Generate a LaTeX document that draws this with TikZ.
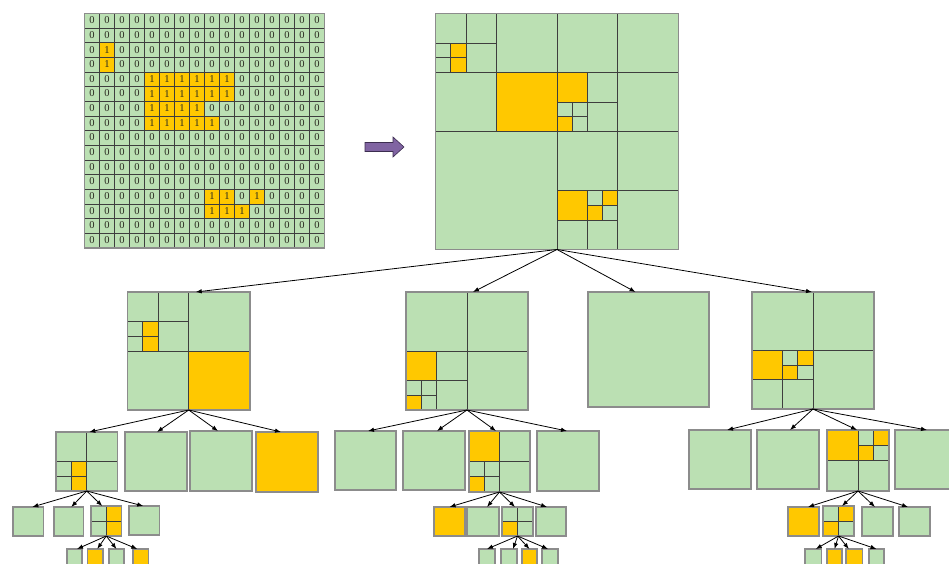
\documentclass[tikz,border=0pt]{standalone}
\usepackage{fontspec}
\setmainfont{Liberation Serif}
\usetikzlibrary{arrows.meta}

\definecolor{qgreen}{RGB}{187,224,179}
\definecolor{qyellow}{RGB}{255,200,0}
\definecolor{qline}{RGB}{62,62,62}
\definecolor{qedge}{RGB}{140,140,140}
\definecolor{qpurple}{RGB}{128,100,162}
\definecolor{qpurpleedge}{RGB}{60,45,80}
\definecolor{qdigit}{RGB}{40,40,30}

\tikzset{
  qbox/.style={rectangle, anchor=north west, inner sep=0pt, outer sep=0pt},
  leaf/.style={draw=qline, line width=0.7pt},
  rim/.style={draw=qedge, line width=1.2pt},
  gridcell/.style={draw=qline, line width=0.6pt},
  digit/.style={inner sep=0pt, text=qdigit, font=\fontsize{10.5}{10.5}\selectfont},
  link/.style={draw=black, line width=0.8pt, -{Latex[length=6pt,width=4.5pt]}},
  blockarrow/.style={fill=qpurple, draw=qpurpleedge, line width=0.6pt, line join=miter}
}

% quadtree block: name, left, top, width, height, units across, leaves x/y/size/colour
\newcommand\qtbox[7]{%
  \node[qbox, minimum width=#4pt, minimum height=#5pt] (#1) at (#2,#3) {};
  \pgfmathsetmacro\qux{#4/#6}\pgfmathsetmacro\quy{#5/#6}
  \begin{scope}[shift={(#1.north west)}, x=\qux pt, y=-\quy pt]
    \foreach \lx/\ly/\ls/\lc in {#7} {
      \filldraw[leaf, fill=\lc] (\lx,\ly) rectangle ++(\ls,\ls);
    }
  \end{scope}
  \draw[rim] (#1.north west) rectangle (#1.south east);
}
% single-colour block
\newcommand\qtplain[6]{\qtbox{#1}{#2}{#3}{#4}{#5}{1}{0/0/1/#6}}

% cells holding a 1 (column@row)
\foreach \gc/\gr in {1/2,1/3,
  4/4,5/4,6/4,7/4,8/4,9/4,
  4/5,5/5,6/5,7/5,8/5,9/5,
  4/6,5/6,6/6,7/6,
  4/7,5/7,6/7,7/7,8/7,
  8/12,9/12,11/12,
  8/13,9/13,10/13}{\expandafter\gdef\csname qone@\gc @\gr\endcsname{}}

\begin{document}
\begin{tikzpicture}[x=1pt, y=-1pt]
\useasboundingbox (0,0) rectangle (949,564);

% ---- binary image ----
\foreach \gr in {0,...,15} {
  \foreach \gc in {0,...,15} {
    \ifcsname qone@\gc @\gr\endcsname
      \def\qv{1}\def\qf{qyellow}
    \else
      \def\qv{0}\def\qf{qgreen}
    \fi
    \filldraw[gridcell, fill=\qf] (84.5+\gc*15, 13.5+\gr*14.65) rectangle ++(15,14.65);
    \node[digit] at (92+\gc*15, 20.3+\gr*14.65) {\qv};
  }
}
\node[qbox, minimum width=240pt, minimum height=234.4pt] (grid) at (84.5,13.5) {};
\draw[rim] (grid.north west) rectangle (grid.south east);

% ---- block arrow ----
\filldraw[blockarrow] (365,142.5) -- (393,142.5) -- (393,137) -- (404,147)
  -- (393,157) -- (393,151.5) -- (365,151.5) -- cycle;

% ---- full quadtree ----
\qtbox{root}{435.5}{13.5}{243}{236}{16}{
  0/0/2/qgreen, 2/0/2/qgreen, 0/2/1/qgreen, 1/2/1/qyellow, 0/3/1/qgreen, 1/3/1/qyellow, 2/2/2/qgreen,
  4/0/4/qgreen, 0/4/4/qgreen, 4/4/4/qyellow,
  8/0/4/qgreen, 12/0/4/qgreen, 8/4/2/qyellow, 10/4/2/qgreen, 8/6/1/qgreen, 9/6/1/qgreen,
  8/7/1/qyellow, 9/7/1/qgreen, 10/6/2/qgreen, 12/4/4/qgreen,
  0/8/8/qgreen,
  8/8/4/qgreen, 12/8/4/qgreen, 8/12/2/qyellow, 10/12/1/qgreen, 11/12/1/qyellow,
  10/13/1/qyellow, 11/13/1/qgreen, 8/14/2/qgreen, 10/14/2/qgreen, 12/12/4/qgreen}

% ---- level 1 ----
\qtbox{c1}{127.5}{292}{122.5}{118}{8}{
  0/0/2/qgreen, 2/0/2/qgreen, 0/2/1/qgreen, 1/2/1/qyellow, 0/3/1/qgreen, 1/3/1/qyellow, 2/2/2/qgreen,
  4/0/4/qgreen, 0/4/4/qgreen, 4/4/4/qyellow}
\qtbox{c2}{406}{292}{122}{118}{8}{
  0/0/4/qgreen, 4/0/4/qgreen, 0/4/2/qyellow, 2/4/2/qgreen, 0/6/1/qgreen, 1/6/1/qgreen,
  0/7/1/qyellow, 1/7/1/qgreen, 2/6/2/qgreen, 4/4/4/qgreen}
\qtplain{c3}{588}{292}{121}{115}{qgreen}
\qtbox{c4}{752}{292}{122}{117}{8}{
  0/0/4/qgreen, 4/0/4/qgreen, 0/4/2/qyellow, 2/4/1/qgreen, 3/4/1/qyellow, 2/5/1/qyellow,
  3/5/1/qgreen, 0/6/2/qgreen, 2/6/2/qgreen, 4/4/4/qgreen}

% ---- level 2 ----
\qtbox{c11}{56}{432}{61.5}{59}{4}{
  0/0/2/qgreen, 2/0/2/qgreen, 0/2/1/qgreen, 1/2/1/qyellow, 0/3/1/qgreen, 1/3/1/qyellow, 2/2/2/qgreen}
\qtplain{c12}{125}{432}{62}{59}{qgreen}
\qtplain{c13}{190}{431}{62}{60}{qgreen}
\qtplain{c14}{256}{432}{62}{60}{qyellow}

\qtplain{c21}{335}{431}{61}{59}{qgreen}
\qtplain{c22}{403}{431}{62}{59}{qgreen}
\qtbox{c23}{469}{431}{61}{61}{4}{
  0/0/2/qyellow, 2/0/2/qgreen, 0/2/1/qgreen, 1/2/1/qgreen, 0/3/1/qyellow, 1/3/1/qgreen, 2/2/2/qgreen}
\qtplain{c24}{537}{431}{62}{60}{qgreen}

\qtplain{c41}{689}{430}{62}{59}{qgreen}
\qtplain{c42}{757}{430}{62}{59}{qgreen}
\qtbox{c43}{827}{430}{62}{61}{4}{
  0/0/2/qyellow, 2/0/1/qgreen, 3/0/1/qyellow, 2/1/1/qyellow, 3/1/1/qgreen, 0/2/2/qgreen, 2/2/2/qgreen}
\qtplain{c44}{895}{430}{62}{59}{qgreen}

% ---- level 3 ----
\qtplain{c111}{13}{507}{30.5}{29}{qgreen}
\qtplain{c112}{54}{507}{29.5}{29}{qgreen}
\qtbox{c113}{91}{506}{30.5}{30}{2}{0/0/1/qgreen, 1/0/1/qyellow, 0/1/1/qgreen, 1/1/1/qyellow}
\qtplain{c114}{129}{506}{30.5}{29}{qgreen}

\qtplain{c231}{434}{507}{31}{29}{qyellow}
\qtplain{c232}{467}{507}{32}{29}{qgreen}
\qtbox{c233}{502}{507}{31}{29}{2}{0/0/1/qgreen, 1/0/1/qgreen, 0/1/1/qyellow, 1/1/1/qgreen}
\qtplain{c234}{536}{507}{30}{29}{qgreen}

\qtplain{c431}{788}{507}{31}{29}{qyellow}
\qtbox{c432}{823}{506}{31}{30}{2}{0/0/1/qgreen, 1/0/1/qyellow, 0/1/1/qyellow, 1/1/1/qgreen}
\qtplain{c433}{862}{507}{31}{29}{qgreen}
\qtplain{c434}{899}{507}{31}{29}{qgreen}

% ---- level 4 ----
\qtplain{c1131}{67}{549}{15}{17}{qgreen}
\qtplain{c1132}{87.5}{549}{15.5}{17}{qyellow}
\qtplain{c1133}{109}{549}{15}{17}{qgreen}
\qtplain{c1134}{133}{549}{15.5}{17}{qyellow}

\qtplain{c2331}{479}{549}{16}{17}{qgreen}
\qtplain{c2332}{501}{549}{16}{17}{qgreen}
\qtplain{c2333}{522}{549}{15}{17}{qyellow}
\qtplain{c2334}{542}{549}{16}{17}{qgreen}

\qtplain{c4321}{805}{549}{16.5}{17}{qgreen}
\qtplain{c4322}{827}{549}{15}{17}{qyellow}
\qtplain{c4323}{846}{549}{16.5}{17}{qyellow}
\qtplain{c4324}{869}{549}{15}{17}{qgreen}

% ---- tree links ----
\draw[link] (root.south) -- ([xshift=7pt]c1.north);
\draw[link] (root.south) -- ([xshift=6pt]c2.north);
\draw[link] (root.south) -- ([xshift=-13pt]c3.north);
\draw[link] (root.south) -- ([xshift=-1pt]c4.north);

\draw[link] (c1.south) -- ([xshift=2.5pt]c11.north);
\draw[link] (c1.south) -- ([xshift=1pt]c12.north);
\draw[link] (c1.south) -- ([xshift=-3pt]c13.north);
\draw[link] (c1.south) -- ([xshift=-6pt]c14.north);

\draw[link] (c11.south) -- ([xshift=4pt]c111.north);
\draw[link] (c11.south) -- ([xshift=2.5pt]c112.north);
\draw[link] (c11.south) -- ([xshift=-4pt]c113.north);
\draw[link] (c11.south) -- ([xshift=-1pt]c114.north);

\draw[link] (c113.south) -- ([xshift=2.5pt]c1131.north);
\draw[link] (c113.south) -- ([xshift=2pt]c1132.north);
\draw[link] (c113.south) -- (c1133.north);
\draw[link] (c113.south) -- ([xshift=-3.5pt]c1134.north);

\draw[link] (c2.south) -- ([xshift=2.5pt]c21.north);
\draw[link] (c2.south) -- ([xshift=3pt]c22.north);
\draw[link] (c2.south) -- ([xshift=-3.5pt]c23.north);
\draw[link] (c2.south) -- ([xshift=-1pt]c24.north);

\draw[link] (c23.south) -- (c231.north);
\draw[link] (c23.south) -- ([xshift=4pt]c232.north);
\draw[link] (c23.south) -- ([xshift=-2.5pt]c233.north);
\draw[link] (c23.south) -- ([xshift=-4pt]c234.north);

\draw[link] (c233.south) -- (c2331.north);
\draw[link] (c233.south) -- ([xshift=4pt]c2332.north);
\draw[link] (c233.south) -- (c2333.north);
\draw[link] (c233.south) -- ([xshift=-2pt]c2334.north);

\draw[link] (c4.south) -- ([xshift=7pt]c41.north);
\draw[link] (c4.south) -- ([xshift=2pt]c42.north);
\draw[link] (c4.south) -- ([xshift=-1pt]c43.north);
\draw[link] (c4.south) -- ([xshift=1pt]c44.north);

\draw[link] (c43.south) -- ([xshift=4.5pt]c431.north);
\draw[link] (c43.south) -- ([xshift=3.5pt]c432.north);
\draw[link] (c43.south) -- ([xshift=-2.5pt]c433.north);
\draw[link] (c43.south) -- ([xshift=-6.5pt]c434.north);

\draw[link] (c432.south) -- ([xshift=2.5pt]c4321.north);
\draw[link] (c432.south) -- (c4322.north);
\draw[link] (c432.south) -- ([xshift=-5.5pt]c4323.north);
\draw[link] (c432.south) -- (c4324.north);
\end{tikzpicture}
\end{document}
